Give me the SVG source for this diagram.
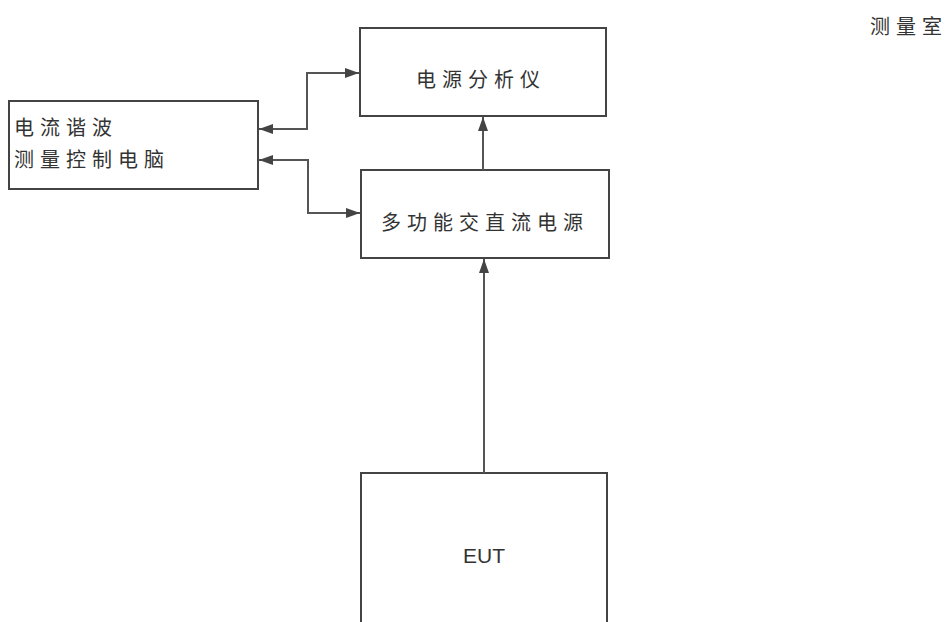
<svg xmlns="http://www.w3.org/2000/svg" width="952" height="622" viewBox="0 0 952 622">
<style>
.box{fill:#fff;stroke:#444;stroke-width:2}
.ln{fill:none;stroke:#555;stroke-width:2}
.t{font-family:"Noto Sans CJK SC","Liberation Sans",sans-serif;font-size:20px;fill:#333;letter-spacing:6px}
.e{font-family:"Liberation Sans",sans-serif;font-size:21px;fill:#333}
</style>
<defs>
<marker id="ah" viewBox="0 0 14 10" refX="14" refY="5" markerWidth="14" markerHeight="10" markerUnits="userSpaceOnUse" orient="auto-start-reverse">
<path d="M0,0 L14,5 L0,10 z" fill="#444"/>
</marker>
</defs>
<rect width="952" height="622" fill="#fff"/>
<text x="870" y="34" class="t">测量室</text>
<g id="analyzer"><rect class="box" x="360" y="28" width="246" height="88"/><text x="416" y="87" class="t">电源分析仪</text></g>
<g id="pc"><rect class="box" x="9" y="101" width="249" height="88"/><text x="14" y="135" class="t">电流谐波</text><text x="14" y="167" class="t">测量控制电脑</text></g>
<g id="source"><rect class="box" x="361" y="170" width="248" height="88"/><text x="381" y="230" class="t">多功能交直流电源</text></g>
<g id="eut"><rect class="box" x="361" y="473" width="246" height="160"/><text x="484" y="563" class="e" text-anchor="middle">EUT</text></g>
<g id="connectors">
<path class="ln" d="M259,129 H307 V73 H359" marker-start="url(#ah)" marker-end="url(#ah)"/>
<path class="ln" d="M259,160 H308 V213 H360" marker-start="url(#ah)" marker-end="url(#ah)"/>
<path class="ln" d="M483,170 V117" marker-end="url(#ah)"/>
<path class="ln" d="M484,473 V259" marker-end="url(#ah)"/>
</g>
</svg>
